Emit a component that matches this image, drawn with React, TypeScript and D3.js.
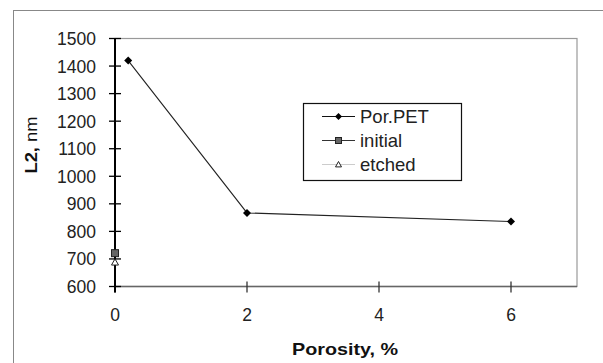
import React from "react";
import * as d3 from "d3";

const porPetX = [0.2, 2, 6];
const porPetY = [1420, 867, 836];
const initialX = [0];
const initialY = [721];
const etchedX = [0];
const etchedY = [688];
const yTicks = [600, 700, 800, 900, 1000, 1100, 1200, 1300, 1400, 1500];
const xTicks = [0, 2, 4, 6];
const legendLabels = ["Por.PET", "initial", "etched"];

const W = 603;
const H = 363;
const FONT = "'Liberation Sans', Arial, sans-serif";

export default function App() {
  const x = d3.scaleLinear().domain([0, 7]).range([115, 577]);
  const y = d3.scaleLinear().domain([600, 1500]).range([286.5, 38.5]);

  const line = d3
    .line<[number, number]>()
    .x((d) => x(d[0]))
    .y((d) => y(d[1]));
  const porPts: [number, number][] = porPetX.map((v, i) => [v, porPetY[i]]);

  const diamond = (cx: number, cy: number, r: number) =>
    `M${cx},${cy - r}L${cx + r},${cy}L${cx},${cy + r}L${cx - r},${cy}Z`;
  const triangle = (cx: number, cy: number, r: number) =>
    `M${cx},${cy - r}L${cx + r},${cy + r * 0.8}L${cx - r},${cy + r * 0.8}Z`;

  const [x0, x1] = x.range();
  const [yb, yt] = y.range();

  const legX = 303;
  const legY = 103;
  const legRows = [123, 147, 171];

  return (
    <svg
      width={W}
      height={H}
      style={{ position: "absolute", left: 0, top: 0, background: "#fff" }}
      fontFamily={FONT}
    >
      <rect x={0} y={0} width={W} height={H} fill="#fff" />
      {/* outer chart frame */}
      <rect x={13.5} y={10.5} width={620} height={400} fill="none" stroke="#888" strokeWidth={1} />

      {/* plot area border */}
      <rect x={x0} y={yt} width={x1 - x0} height={yb - yt} fill="none" stroke="#999" strokeWidth={1.2} />
      {/* x axis */}
      <line x1={x0} x2={x1} y1={yb} y2={yb} stroke="#666" strokeWidth={1.3} />
      {xTicks.map((t) => (
        <g key={"xt" + t}>
          <line x1={x(t)} x2={x(t)} y1={yb - 5} y2={yb + 6} stroke="#333" strokeWidth={1.3} />
          <text x={x(t)} y={321} fontSize={17.5} textAnchor="middle" fill="#222">
            {t}
          </text>
        </g>
      ))}
      {/* y axis */}
      <line x1={x0} x2={x0} y1={yt} y2={yb + 6} stroke="#000" strokeWidth={2} />
      {yTicks.map((t) => (
        <g key={"yt" + t}>
          <line x1={x0 - 6} x2={x0 + 6} y1={y(t)} y2={y(t)} stroke="#000" strokeWidth={1.3} />
          <text x={96} y={y(t) + 6.5} fontSize={17.5} textAnchor="end" fill="#222">
            {t}
          </text>
        </g>
      ))}

      {/* axis titles */}
      <text
        x={345}
        y={355}
        fontSize={17}
        fontWeight="bold"
        textAnchor="middle"
        textLength={106}
        lengthAdjust="spacingAndGlyphs"
        fill="#111"
      >
        Porosity, %
      </text>
      <g transform="translate(37,145) rotate(-90) scale(1.08,1)">
        <text x={0} y={0} fontSize={17} textAnchor="middle" fill="#111">
          <tspan fontWeight="bold">L2,</tspan>
          <tspan> nm</tspan>
        </text>
      </g>

      {/* series */}
      <path d={line(porPts) || ""} fill="none" stroke="#222" strokeWidth={1.1} />
      {porPts.map((p, i) => (
        <path key={"pp" + i} d={diamond(x(p[0]), y(p[1]), 4)} fill="#000" />
      ))}
      {initialX.map((v, i) => (
        <rect
          key={"in" + i}
          x={x(v) - 3.5}
          y={y(initialY[i]) - 3.5}
          width={7}
          height={7}
          fill="#666"
          stroke="#222"
          strokeWidth={1}
        />
      ))}
      {etchedX.map((v, i) => (
        <path key={"et" + i} d={triangle(x(v), y(etchedY[i]), 3.5)} fill="#fff" stroke="#222" strokeWidth={1} />
      ))}

      {/* legend */}
      <rect x={legX + 0.5} y={legY + 0.5} width={158} height={77} fill="#fff" stroke="#111" strokeWidth={1.2} />
      {legendLabels.map((lab, i) => {
        const cy = legRows[i] - 6.5;
        const lineColor = i === 0 ? "#111" : i === 1 ? "#333" : "#ccc";
        return (
          <g key={"lg" + i}>
            <line x1={322} x2={355} y1={cy} y2={cy} stroke={lineColor} strokeWidth={1.2} />
            {i === 0 && <path d={diamond(338.5, cy, 3.5)} fill="#000" />}
            {i === 1 && <rect x={335.5} y={cy - 3} width={6} height={6} fill="#666" stroke="#222" />}
            {i === 2 && <path d={triangle(338.5, cy, 3)} fill="#fff" stroke="#222" />}
            <text x={360} y={legRows[i]} fontSize={18.5} fill="#222">
              {lab}
            </text>
          </g>
        );
      })}
    </svg>
  );
}
